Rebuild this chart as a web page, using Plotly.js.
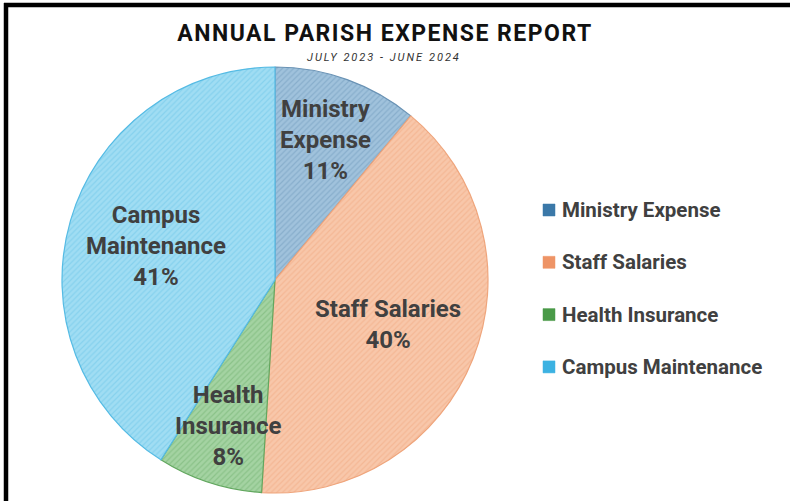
<!DOCTYPE html>
<html>
<head>
<meta charset="utf-8">
<script src="https://cdn.plot.ly/plotly-3.0.1.min.js"></script>
<style>
html,body{margin:0;padding:0;background:#fff;}
#chart{width:790px;height:501px;}
.gtitle{letter-spacing:1.5px;}
.annotation[data-index="0"] .annotation-text{letter-spacing:2px;}
</style>
</head>
<body>
<div id="chart"></div>
<script>
// Data
const categories = ["Ministry Expense", "Staff Salaries", "Health Insurance", "Campus Maintenance"];
const sliceLabels = ["Ministry<br>Expense", "Staff Salaries", "Health<br>Insurance", "Campus<br>Maintenance"];
const shares = [11, 40, 8, 41];
const titleText = "ANNUAL PARISH EXPENSE REPORT";
const subtitleText = "JULY 2023 - JUNE 2024";

// Styles
const bgColors = ["#a0c2dc", "#f8c7aa", "#a4d3a2", "#a0ddf3"];
const fgColors = ["#7099bb", "#efa77f", "#72b270", "#6cc5e8"];
const edgeColors = ["#6a93b5", "#efa57c", "#62a75f", "#55bbe4"];
const swatchColors = ["#3b78a8", "#ee9466", "#4a9a48", "#3cb2e2"];
const labelRadius = [0.70, 0.57, 0.72, 0.58];
const textColor = "#404040";
const fontFam = "Roboto, Arial, sans-serif";

const W = 790, H = 501;
const cx = 275, cy = 280, r = 213;

const trace = {
  type: "pie",
  labels: categories,
  values: shares,
  sort: false,
  direction: "clockwise",
  rotation: 0,
  showlegend: false,
  textinfo: "none",
  hoverinfo: "label+percent",
  domain: {x: [(cx - r) / W, (cx + r) / W], y: [(H - cy - r) / H, (H - cy + r) / H]},
  marker: {
    colors: bgColors,
    line: {color: edgeColors, width: 1.2},
    pattern: {shape: "/", fgcolor: fgColors, bgcolor: bgColors, size: 4, solidity: 0.3, fillmode: "overlay"}
  }
};

const annotations = [];
annotations.push({
  xref: "paper", yref: "paper", x: 384 / W, y: (H - 57) / H,
  xanchor: "center", yanchor: "middle", showarrow: false,
  text: "<i>" + subtitleText + "</i>",
  font: {family: fontFam, size: 11, color: "#333"}
});

// slice labels placed along each slice's mid angle
const total = shares.reduce((a, b) => a + b, 0);
let cum = 0;
shares.forEach((v, i) => {
  const mid = (cum + v / 2) / total * 2 * Math.PI;
  cum += v;
  const px = cx + Math.sin(mid) * r * labelRadius[i];
  const py = cy - Math.cos(mid) * r * labelRadius[i];
  const pct = Math.round(v / total * 100) + "%";
  annotations.push({
    xref: "paper", yref: "paper", x: px / W, y: (H - py) / H,
    xanchor: "center", yanchor: "middle", showarrow: false,
    text: sliceLabels[i] + "<br>" + pct,
    font: {family: fontFam, size: 24, weight: 700, color: textColor}
  });
});

// custom legend
const legX = 560 / W;
const legY0 = 210, legStep = 52.3;
categories.forEach((c, i) => annotations.push({
  xref: "paper", yref: "paper",
  x: legX, y: (H - (legY0 + i * legStep)) / H,
  xanchor: "left", yanchor: "middle",
  text: c, showarrow: false,
  font: {family: fontFam, size: 20.5, weight: 700, color: textColor}
}));
const shapes = categories.map((c, i) => ({
  type: "rect", xref: "paper", yref: "paper",
  x0: 543 / W, x1: 555 / W,
  y0: (H - (legY0 + i * legStep) - 6) / H, y1: (H - (legY0 + i * legStep) + 6) / H,
  fillcolor: swatchColors[i], line: {color: swatchColors[i], width: 0.5}
}));
// frame lines
shapes.push({type: "line", xref: "paper", yref: "paper", x0: 4 / W, x1: 1, y0: (H - 5) / H, y1: (H - 5) / H, line: {color: "#000", width: 4.5}});
shapes.push({type: "line", xref: "paper", yref: "paper", x0: 6 / W, x1: 6 / W, y0: 0, y1: (H - 3) / H, line: {color: "#000", width: 4.5}});

const layout = {
  width: W, height: H,
  margin: {l: 0, r: 0, t: 0, b: 0},
  paper_bgcolor: "#fff",
  title: {
    text: "<b>" + titleText + "</b>",
    x: 385 / W, xanchor: "center", y: (H - 33) / H, yanchor: "middle",
    font: {family: fontFam, size: 23, color: "#111"}
  },
  annotations: annotations,
  shapes: shapes,
  showlegend: false
};

Plotly.newPlot("chart", [trace], layout, {displayModeBar: false, staticPlot: true});
</script>
</body>
</html>
